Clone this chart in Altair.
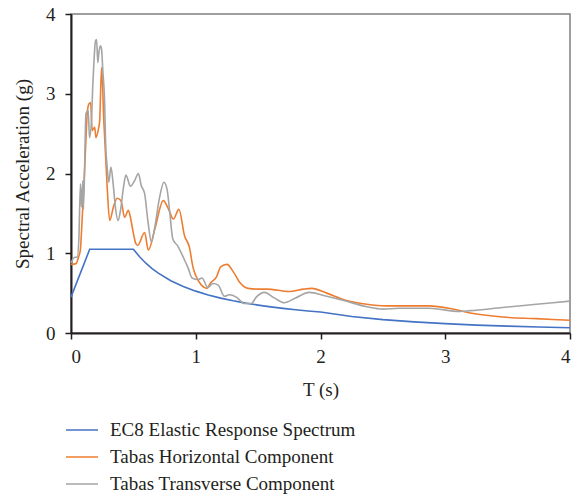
import altair as alt
import pandas as pd

series_names = ["EC8 Elastic Response Spectrum", "Tabas Horizontal Component", "Tabas Transverse Component"]
series_colors = ["#4472C4", "#ED7D31", "#A5A5A5"]

ec8_T = [0.0, 0.15, 0.5, 0.55, 0.6, 0.65, 0.7, 0.8, 0.9, 1.0, 1.1, 1.2, 1.3, 1.4, 1.5, 1.6, 1.7, 1.8, 1.9, 2.0,
         2.25, 2.5, 2.75, 3.0, 3.25, 3.5, 3.75, 4.0]
ec8_Sa = [0.45, 1.05, 1.05, 0.955, 0.875, 0.808, 0.75, 0.656, 0.583, 0.525, 0.477, 0.4375, 0.404, 0.375, 0.35,
          0.328, 0.309, 0.292, 0.276, 0.2625, 0.207, 0.168, 0.139, 0.117, 0.099, 0.086, 0.075, 0.066]

hor_T = [0.0, 0.04, 0.06, 0.075, 0.09, 0.10, 0.116, 0.13, 0.143, 0.157, 0.17, 0.19, 0.20, 0.22, 0.23, 0.245,
         0.263, 0.29, 0.31, 0.34, 0.37, 0.40, 0.43, 0.46, 0.48, 0.50, 0.52, 0.535, 0.59, 0.62, 0.67, 0.74, 0.78,
         0.82, 0.865, 0.91, 0.95, 0.977, 1.0, 1.045, 1.09, 1.12, 1.165, 1.20, 1.25, 1.30, 1.35, 1.42, 1.50,
         1.57, 1.75, 1.86, 1.93, 2.05, 2.20, 2.37, 2.53, 2.66, 2.80, 2.87, 3.06, 3.20, 3.46, 3.73, 4.0]
hor_Sa = [0.86, 0.87, 0.95, 1.04, 1.45, 1.75, 2.29, 2.75, 2.87, 2.89, 2.54, 2.58, 2.45, 2.56, 2.66, 3.33,
          2.66, 1.83, 1.41, 1.58, 1.69, 1.66, 1.45, 1.54, 1.42, 1.25, 1.12, 1.10, 1.26, 1.04, 1.29, 1.66, 1.56,
          1.43, 1.55, 1.22, 1.07, 0.83, 0.72, 0.60, 0.56, 0.63, 0.70, 0.83, 0.86, 0.77, 0.64, 0.56, 0.55,
          0.55, 0.52, 0.55, 0.56, 0.50, 0.41, 0.36, 0.34, 0.34, 0.34, 0.34, 0.30, 0.25, 0.20, 0.18, 0.16]

tra_T = [0.0, 0.03, 0.05, 0.063, 0.076, 0.084, 0.095, 0.10, 0.12, 0.138, 0.148, 0.164, 0.175, 0.183, 0.196,
         0.205, 0.215, 0.223, 0.236, 0.245, 0.255, 0.27, 0.277, 0.29, 0.303, 0.32, 0.338, 0.357, 0.378, 0.397,
         0.423, 0.44, 0.477, 0.51, 0.54, 0.563, 0.59, 0.616, 0.645, 0.67, 0.71, 0.745, 0.77, 0.79, 0.816, 0.856,
         0.90, 0.94, 0.97, 1.02, 1.05, 1.097, 1.137, 1.18, 1.23, 1.27, 1.325, 1.39, 1.445, 1.485, 1.55, 1.63,
         1.71, 1.80, 1.91, 2.05, 2.18, 2.37, 2.50, 2.63, 2.80, 2.87, 3.115, 3.20, 3.46, 3.73, 4.0]
tra_Sa = [0.88, 0.95, 0.95, 1.18, 1.87, 1.58, 1.91, 1.55, 2.75, 2.79, 2.45, 2.66, 3.12, 3.37, 3.66,
          3.68, 3.39, 3.51, 3.60, 3.56, 3.29, 2.87, 2.41, 2.08, 1.89, 2.08, 1.87, 1.56, 1.41, 1.54,
          1.85, 1.98, 1.84, 1.91, 2.00, 1.85, 1.75, 1.41, 1.14, 1.31, 1.70, 1.89, 1.80, 1.54, 1.18, 1.09,
          0.95, 0.81, 0.69, 0.67, 0.69, 0.57, 0.62, 0.60, 0.46, 0.48, 0.45, 0.37, 0.37, 0.45, 0.51, 0.44,
          0.38, 0.44, 0.51, 0.46, 0.41, 0.33, 0.30, 0.31, 0.31, 0.31, 0.27, 0.28, 0.32, 0.36, 0.40]


def frame(T, S, name):
    return pd.DataFrame({"T": T, "Sa": S, "series": name, "idx": list(range(len(T)))})


df_ec8 = frame(ec8_T, ec8_Sa, series_names[0])
df_rec = pd.concat([frame(hor_T, hor_Sa, series_names[1]), frame(tra_T, tra_Sa, series_names[2])])

FONT = "Liberation Serif"
DARK = "#231f20"

x = alt.X("T:Q", scale=alt.Scale(domain=[0, 4], nice=False),
          axis=alt.Axis(values=[0, 1, 2, 3, 4], format="d", title="T (s)", labelPadding=8, titlePadding=14))
y = alt.Y("Sa:Q", scale=alt.Scale(domain=[0, 4], nice=False),
          axis=alt.Axis(values=[0, 1, 2, 3, 4], format="d", title="Spectral Acceleration (g)",
                        labelPadding=10, titlePadding=13))
color = alt.Color("series:N", sort=series_names,
                  scale=alt.Scale(domain=series_names, range=series_colors),
                  legend=alt.Legend(title=None, orient="none", legendX=-6, legendY=406,
                                    symbolType="stroke", symbolSize=1024, symbolStrokeWidth=1.6,
                                    clipHeight=20, labelLimit=500,
                                    labelFont=FONT, labelFontSize=19, labelColor=DARK,
                                    labelOffset=11, rowPadding=7))

blue = alt.Chart(df_ec8).mark_line(strokeWidth=1.6).encode(x=x, y=y, color=color, order="idx:Q")
rec = alt.Chart(df_rec).mark_line(strokeWidth=1.6, interpolate="monotone").encode(
    x=x, y=y, color=color, order="idx:Q")

chart = alt.layer(blue, rec).properties(
    width=499, height=319,
    background="white",
    autosize=alt.AutoSizeParams(type="none"),
    padding={"left": 71, "top": 14, "right": 9, "bottom": 163},
).configure_view(stroke="#808080", strokeWidth=1.5).configure_axis(
    grid=False, domainColor=DARK, domainWidth=2, tickColor=DARK, tickWidth=1.5, tickSize=6,
    labelFont=FONT, labelFontSize=19, labelColor=DARK,
    titleFont=FONT, titleFontSize=19, titleColor=DARK, titleFontWeight="normal",
)

chart.save("out.html", embed_options={"renderer": "svg", "actions": False})
